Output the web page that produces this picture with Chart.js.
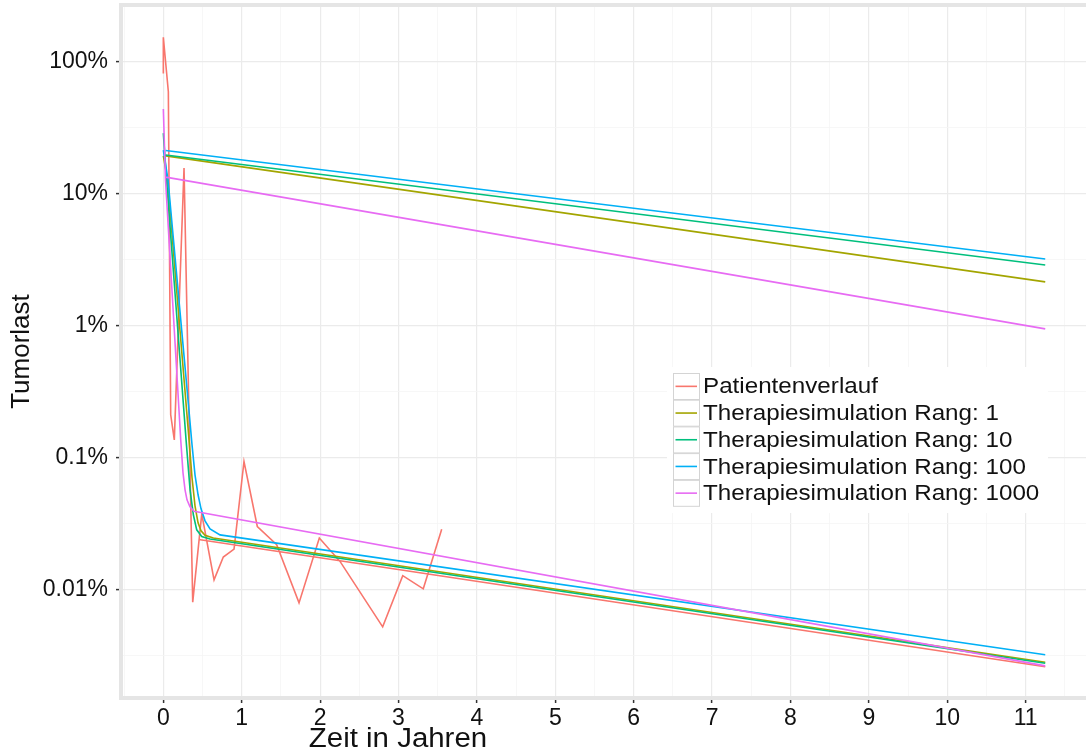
<!DOCTYPE html>
<html>
<head>
<meta charset="utf-8">
<script src="https://cdn.jsdelivr.net/npm/chart.js@4.4.1/dist/chart.umd.min.js"></script>
<style>
  html, body { margin: 0; padding: 0; background: #fff; overflow: hidden; }
  #wrap { width: 1086px; height: 753px; position: relative; }
</style>
</head>
<body>
<div id="wrap"><canvas id="tumorChart"></canvas></div>
<script>
// Axis ticks
const yearTicks = [0, 1, 2, 3, 4, 5, 6, 7, 8, 9, 10, 11];
const halfYearTicks = [-0.5, 0.5, 1.5, 2.5, 3.5, 4.5, 5.5, 6.5, 7.5, 8.5, 9.5, 10.5, 11.5];
const loadTicks = [0.01, 0.1, 1, 10, 100];
const loadTickLabels = ['0.01%', '0.1%', '1%', '10%', '100%'];
const loadMinorTicks = [0.00316, 0.0316, 0.316, 3.16, 31.6];

const seriesNames = [
    'Patientenverlauf',
    'Therapiesimulation Rang: 1',
    'Therapiesimulation Rang: 10',
    'Therapiesimulation Rang: 100',
    'Therapiesimulation Rang: 1000'
];
const seriesColors = ['#F8766D', '#A3A500', '#00BF7D', '#00B0F6', '#E76BF3'];

// Patientenverlauf (measured tumour load in %), plus the patient's model curve
const patientYears = [0, 0, 0.064, 0.094, 0.14, 0.264, 0.375, 0.49, 0.647, 0.765, 0.902, 1.029, 1.199, 1.446, 1.731, 1.99, 2.254, 2.798, 3.054, 3.316, 3.551];
const patientLoad = [82, 154, 59.5, 0.211, 0.136, 15.7, 0.008, 0.0374, 0.0118, 0.0176, 0.0202, 0.0933, 0.03, 0.0218, 0.0079, 0.0245, 0.0163, 0.0052, 0.0127, 0.0101, 0.0286];
const patientFitYears = [0.45, 11.25];
const patientFitLoad = [0.0239, 0.00259];

// Simulations: fast-falling curve and slowly falling line for each rank
const rank1Years = [0, 0.054, 0.328, 0.366, 0.404, 0.443, 0.481, 0.532, 0.638, 11.25];
const rank1Load = [19.4, 12.7, 0.136, 0.0702, 0.043, 0.032, 0.0278, 0.0257, 0.0245, 0.0028];
const rank1SlowYears = [0.03, 11.25];
const rank1SlowLoad = [19.4, 2.15];

const rank10Years = [0, 0.041, 0.29, 0.341, 0.383, 0.426, 0.49, 0.596, 11.25];
const rank10Load = [28.9, 12.7, 0.136, 0.0569, 0.0368, 0.0283, 0.0252, 0.0241, 0.00275];
const rank10SlowYears = [0.03, 11.25];
const rank10SlowLoad = [19.7, 2.89];

const rank100Years = [0, 0.06, 0.315, 0.366, 0.404, 0.443, 0.481, 0.532, 0.596, 0.723, 11.25];
const rank100Load = [21.5, 12.7, 0.274, 0.125, 0.0739, 0.0522, 0.0408, 0.0331, 0.0288, 0.0259, 0.00319];
const rank100SlowYears = [0.03, 11.25];
const rank100SlowLoad = [21.3, 3.21];

const rank1000Years = [0, 0.028, 0.222, 0.251, 0.277, 0.302, 0.34, 0.392, 11.25];
const rank1000Load = [44, 12.7, 0.136, 0.0766, 0.0569, 0.0478, 0.0423, 0.0391, 0.00263];
const rank1000SlowYears = [0.03, 11.25];
const rank1000SlowLoad = [13.4, 0.946];

// join several x/y runs into one dataset, broken by a gap point
function toSegments(...runs) {
    const pts = [];
    runs.forEach(([xs, ys], i) => {
        if (i > 0) pts.push({ x: xs[0], y: null });
        xs.forEach((x, j) => pts.push({ x: x, y: ys[j] }));
    });
    return pts;
}

const seriesData = [
    toSegments([patientYears, patientLoad], [patientFitYears, patientFitLoad]),
    toSegments([rank1Years, rank1Load], [rank1SlowYears, rank1SlowLoad]),
    toSegments([rank10Years, rank10Load], [rank10SlowYears, rank10SlowLoad]),
    toSegments([rank100Years, rank100Load], [rank100SlowYears, rank100SlowLoad]),
    toSegments([rank1000Years, rank1000Load], [rank1000SlowYears, rank1000SlowLoad])
];

const FONT = '"Liberation Sans", Arial, sans-serif';
const TEXT = '#111111';

function drawText(ctx, text, x, y, align, sx) {
    ctx.save();
    ctx.translate(x, y);
    ctx.scale(sx, 1);
    ctx.textAlign = align;
    ctx.textBaseline = 'middle';
    ctx.fillText(text, 0, 0);
    ctx.restore();
}

// light grey frame round the panel (left, top, bottom)
const panelFrame = {
    id: 'panelFrame',
    beforeDatasetsDraw(chart) {
        const { ctx, chartArea: a } = chart;
        ctx.save();
        ctx.fillStyle = '#e5e5e5';
        ctx.fillRect(a.left - 2, a.top - 2, chart.width - a.left + 2, 4);
        ctx.fillRect(a.left - 2, a.top - 2, 4, a.bottom - a.top + 4);
        ctx.fillRect(a.left - 2, a.bottom - 2, chart.width - a.left + 2, 4);
        ctx.restore();
    }
};

// axis titles
const axisTitles = {
    id: 'axisTitles',
    afterDraw(chart) {
        const { ctx, chartArea: a } = chart;
        ctx.save();
        ctx.fillStyle = TEXT;
        ctx.font = '27px ' + FONT;
        drawText(ctx, 'Zeit in Jahren', 398, 740, 'center', 1.09);
        ctx.font = '26px ' + FONT;
        ctx.translate(22, (a.top + a.bottom) / 2);
        ctx.rotate(-Math.PI / 2);
        drawText(ctx, 'Tumorlast', 0, 0, 'center', 1);
        ctx.restore();
    }
};

// legend box inside the panel
const boxLegend = {
    id: 'boxLegend',
    afterDraw(chart) {
        const ctx = chart.ctx;
        const x0 = 667, y0 = 367, rowH = 26.7;
        ctx.save();
        ctx.fillStyle = '#ffffff';
        ctx.fillRect(x0, y0, 381, 146);
        ctx.font = '22px ' + FONT;
        chart.data.datasets.forEach((ds, i) => {
            const top = y0 + 6 + i * rowH;
            const mid = top + rowH / 2;
            ctx.strokeStyle = '#d4d4d4';
            ctx.lineWidth = 1;
            ctx.strokeRect(x0 + 6.5, top + 0.5, 26, 26);
            ctx.strokeStyle = ds.borderColor;
            ctx.lineWidth = 1.6;
            ctx.beginPath();
            ctx.moveTo(x0 + 8.5, mid);
            ctx.lineTo(x0 + 30, mid);
            ctx.stroke();
            ctx.fillStyle = TEXT;
            drawText(ctx, ds.label, x0 + 36, mid + 1, 'left', 1.1);
        });
        ctx.restore();
    }
};

const isMajor = (c) => c.tick && c.tick.major;

const ctx = document.getElementById('tumorChart').getContext('2d');
const tumorChart = new Chart(ctx, {
    type: 'line',
    data: {
        datasets: seriesData.map((pts, i) => ({
            label: seriesNames[i],
            data: pts,
            borderColor: seriesColors[i],
            backgroundColor: seriesColors[i],
            borderWidth: 1.6,
            pointRadius: 0,
            tension: 0,
            spanGaps: false,
            order: seriesData.length - 1 - i
        }))
    },
    options: {
        responsive: true,
        maintainAspectRatio: false,
        animation: false,
        devicePixelRatio: 1,
        layout: { padding: { top: 5, right: 0, bottom: 0, left: 0 } },
        plugins: {
            legend: { display: false },
            tooltip: { enabled: false }
        },
        scales: {
            x: {
                type: 'linear',
                min: -0.54,
                max: 11.77,
                afterBuildTicks: (scale) => {
                    scale.ticks = yearTicks.map(v => ({ value: v, major: true }))
                        .concat(halfYearTicks.map(v => ({ value: v, major: false })));
                },
                afterFit: (scale) => {
                    scale.height = 55;
                    scale.paddingLeft = 0;
                    scale.paddingRight = 0;
                },
                ticks: {
                    autoSkip: false,
                    maxRotation: 0,
                    padding: 2,
                    color: TEXT,
                    font: { family: FONT, size: 23 },
                    callback: (v, i, ticks) => ticks[i].major ? String(v) : ''
                },
                grid: {
                    color: (c) => isMajor(c) ? '#ebebeb' : '#f5f5f5',
                    lineWidth: (c) => isMajor(c) ? 1.2 : 0.8,
                    tickColor: (c) => isMajor(c) ? '#333333' : 'rgba(0,0,0,0)',
                    tickWidth: 1.5,
                    tickLength: 5
                },
                border: { display: false }
            },
            y: {
                type: 'logarithmic',
                min: 0.0015,
                max: 270.7,
                afterBuildTicks: (scale) => {
                    scale.ticks = loadTicks.map(v => ({ value: v, major: true }))
                        .concat(loadMinorTicks.map(v => ({ value: v, major: false })));
                },
                afterFit: (scale) => {
                    scale.width = 121;
                    scale.paddingTop = 0;
                    scale.paddingBottom = 0;
                },
                ticks: {
                    autoSkip: false,
                    padding: 8,
                    color: TEXT,
                    font: { family: FONT, size: 23 },
                    callback: (v, i, ticks) => {
                        const k = loadTicks.indexOf(ticks[i].value);
                        return k >= 0 ? loadTickLabels[k] : '';
                    }
                },
                grid: {
                    color: (c) => isMajor(c) ? '#ebebeb' : '#f5f5f5',
                    lineWidth: (c) => isMajor(c) ? 1.2 : 0.8,
                    tickColor: (c) => isMajor(c) ? '#333333' : 'rgba(0,0,0,0)',
                    tickWidth: 1.5,
                    tickLength: 5
                },
                border: { display: false }
            }
        }
    },
    plugins: [panelFrame, axisTitles, boxLegend]
});
</script>
</body>
</html>
